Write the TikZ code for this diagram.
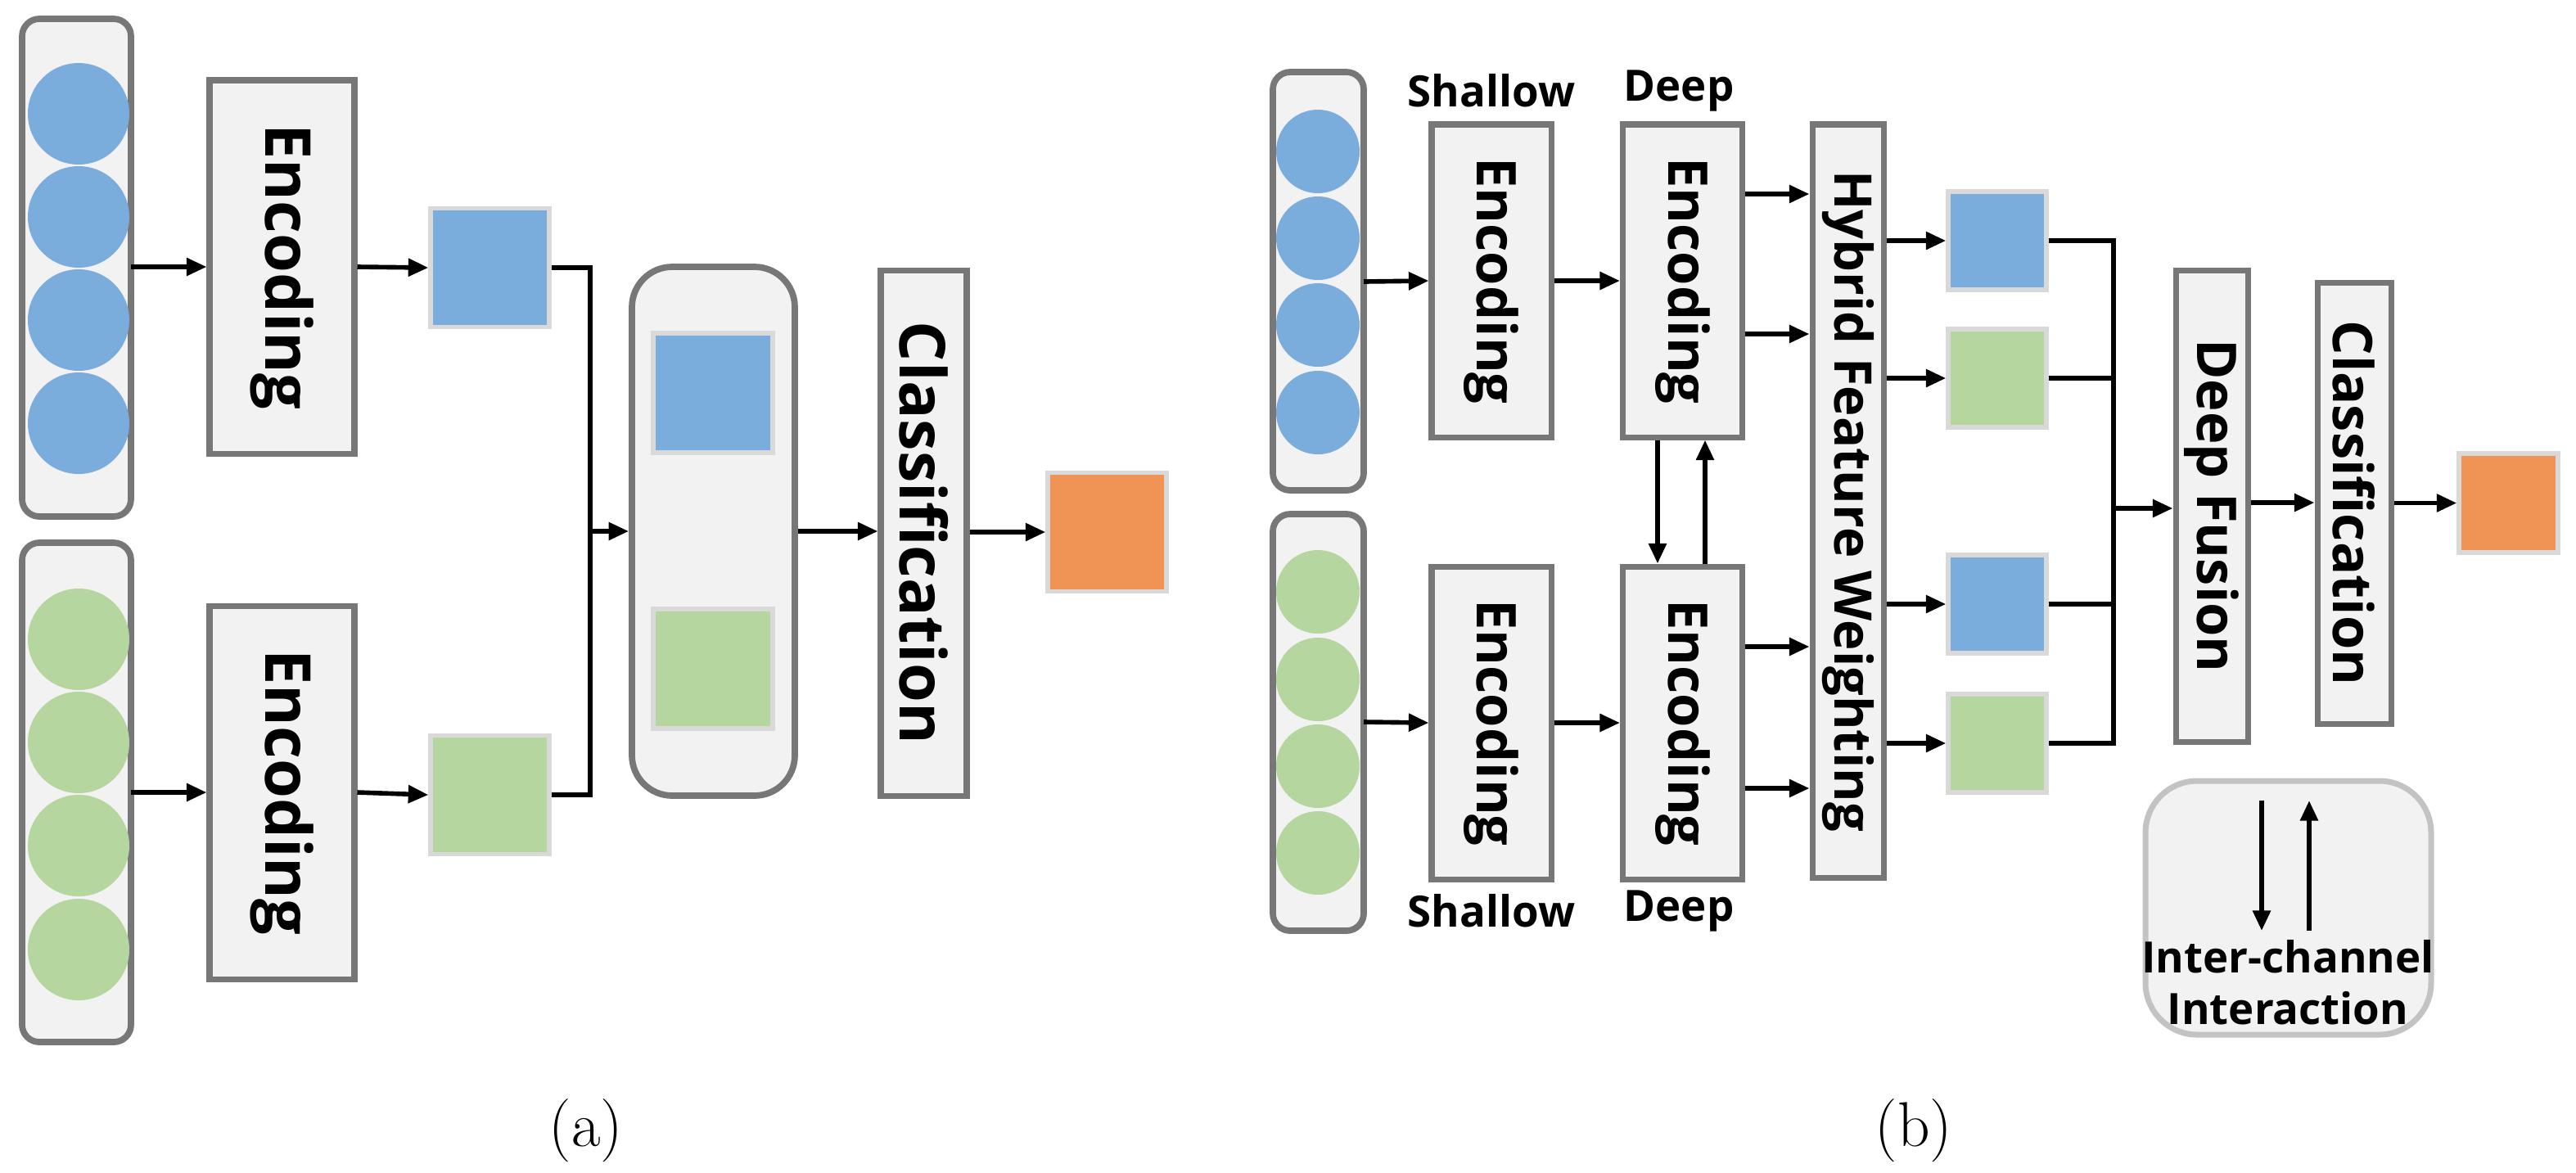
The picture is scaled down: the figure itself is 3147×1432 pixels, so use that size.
\documentclass[tikz,border=0pt]{standalone}
\usepackage{fontspec}
\setmainfont{Open Sans}
\newfontfamily\lmr{Latin Modern Roman}
\usetikzlibrary{arrows.meta}
\definecolor{bd}{HTML}{777777}
\definecolor{fl}{HTML}{F2F2F2}
\definecolor{cb}{HTML}{7AACDC}
\definecolor{cg}{HTML}{B5D69F}
\definecolor{co}{HTML}{EF9454}
\definecolor{sqb}{HTML}{D9D9D9}
\def\uu{0.01cm}
\begin{document}
\begin{tikzpicture}[x=0.01cm,y=-0.01cm,
  col/.style={draw=bd,fill=fl,line width=2.2pt,rounded corners=6pt},
  box/.style={draw=bd,fill=fl,line width=2pt,inner sep=0},
  sq/.style={fill=#1,draw=sqb,line width=1.5pt,inner sep=0},
  vt/.style={rotate=-90,font=\bfseries#1},
  ar/.style={line width=1.6pt,-{Triangle[length=7pt,width=6pt]}},
  ln/.style={line width=1.6pt},
  lab/.style={font=\bfseries\fontsize{15}{18}\selectfont},
  sublab/.style={font=\lmr\fontsize{22}{26}\selectfont}]
\useasboundingbox (0,0) rectangle (3147,1432);
% ===== (a)
\draw[col] (27,23) rectangle (160,631);
\foreach \y in {139,265,391,517}\fill[cb] (96,\y) circle (62);
\draw[col] (27,663) rectangle (160,1273);
\foreach \y in {781,907,1033,1160}\fill[cg] (96,\y) circle (62);
\coordinate (ca) at (160,326); \coordinate (cb2) at (160,968);
\node[box,minimum width=177*\uu,minimum height=456*\uu] (ea1) at (344.5,326) {};
\node[vt=\fontsize{22}{26}\selectfont] at (ea1) {Encoding};
\node[box,minimum width=177*\uu,minimum height=456*\uu] (ea2) at (344.5,968) {};
\node[vt=\fontsize{22}{26}\selectfont] at (ea2) {Encoding};
\node[sq=cb,minimum size=145*\uu] (sa1) at (598.5,327) {};
\node[sq=cg,minimum size=145*\uu] (sa2) at (598.5,971) {};
\draw[ar] (ca) -- (ea1.west);
\draw[ar] (cb2) -- (ea2.west);
\draw[ar] (ea1.east) -- (sa1.west);
\draw[ar] (ea2.east) -- (sa2.west);
\node[col,minimum width=199*\uu,minimum height=646*\uu,inner sep=0,rounded corners=14pt] (cc) at (871.5,649) {};
\node[sq=cb,minimum size=146*\uu] at (871,480) {};
\node[sq=cg,minimum size=146*\uu] at (871,817) {};
\coordinate (ma) at (721,649);
\draw[ln] (sa1.east) -| (ma);
\draw[ln] (sa2.east) -| (ma);
\draw[ar] (ma) -- (cc.west);
\node[box,minimum width=105*\uu,minimum height=642*\uu] (cla) at (1128.5,651) {};
\node[vt=\fontsize{22}{26}\selectfont] at (cla) {Classification};
\node[sq=co,minimum size=145*\uu] (oa) at (1352.5,650) {};
\draw[ar] (cc.east) -- (cc.east -| cla.west);
\draw[ar] (cla.east |- oa) -- (oa.west);
\node[sublab] at (716,1381) {(a)};
% ===== (b)
\draw[col] (1555,88) rectangle (1666,599);
\foreach \y in {185,291,397,504}\fill[cb] (1610,\y) circle (51);
\draw[col] (1555,628) rectangle (1666,1137);
\foreach \y in {723,830,936,1042}\fill[cg] (1610,\y) circle (51);
\coordinate (c1) at (1666,344); \coordinate (c2) at (1666,882);
\foreach \n/\x/\y in {s1/1822/343,d1/2055.5/343,s2/1822/883,d2/2055.5/883}{
  \node[box,minimum width=146*\uu,minimum height=382*\uu] (\n) at (\x,\y) {};
  \node[vt=\fontsize{19}{22}\selectfont] at (\n) {Encoding};}
\node[lab] at (1822,111) {Shallow};
\node[lab] at (2051,111) {Deep};
\node[lab] at (1822,1113) {Shallow};
\node[lab] at (2051,1113) {Deep};
\draw[ar] (c1) -- (s1.west);
\draw[ar] (c2) -- (s2.west);
\draw[ar] (s1.east) -- (d1.west);
\draw[ar] (s2.east) -- (d2.west);
\node[box,minimum width=87*\uu,minimum height=920*\uu] (hy) at (2257.5,612) {};
\node[vt=\fontsize{18}{22}\selectfont] at (hy) {Hybrid Feature Weighting};
\foreach \y in {237,408,790,963}\draw[ar] (d1.east |- 0,\y) -- (hy.west |- 0,\y);
\draw[ar] (d1.south -| 2025,0) -- (d2.north -| 2025,0);
\draw[ar] (d2.north -| 2083,0) -- (d1.south -| 2083,0);
\foreach \n/\c/\y in {q1/cb/294,q2/cg/462,q3/cb/738,q4/cg/908}{
  \node[sq=\c,minimum size=120*\uu] (\n) at (2440,\y) {};
  \draw[ar] (hy.east |- \n) -- (\n.west);}
\coordinate (mb) at (2582,621);
\foreach \n in {q1,q2,q3,q4}\draw[ln] (\n.east) -| (mb);
\node[box,minimum width=88*\uu,minimum height=576*\uu] (df) at (2702,618) {};
\node[vt=\fontsize{19}{22}\selectfont] at (df) {Deep Fusion};
\draw[ar] (mb) -- (df.west |- mb);
\node[box,minimum width=90*\uu,minimum height=539*\uu] (clb) at (2876,614.5) {};
\node[vt=\fontsize{19}{22}\selectfont] at (clb) {Classification};
\node[sq=co,minimum size=121*\uu] (ob) at (3064.5,614.5) {};
\draw[ar] (df.east |- 0,614) -- (clb.west |- 0,614);
\draw[ar] (clb.east |- ob) -- (ob.west);
\draw[draw=sqb!90!black,fill=fl,line width=2pt,rounded corners=18pt] (2621,954) rectangle (2970,1264);
\coordinate (l1) at (2763,978); \coordinate (l2) at (2763,1137);
\coordinate (l3) at (2821,1137); \coordinate (l4) at (2821,978);
\draw[ar] (l1) -- (l2);
\draw[ar] (l3) -- (l4);
\node[lab,align=center] (lt) at (2795,1200) {Inter-channel\\Interaction};
\node[sublab] at (2338,1381) {(b)};
\end{tikzpicture}
\end{document}
